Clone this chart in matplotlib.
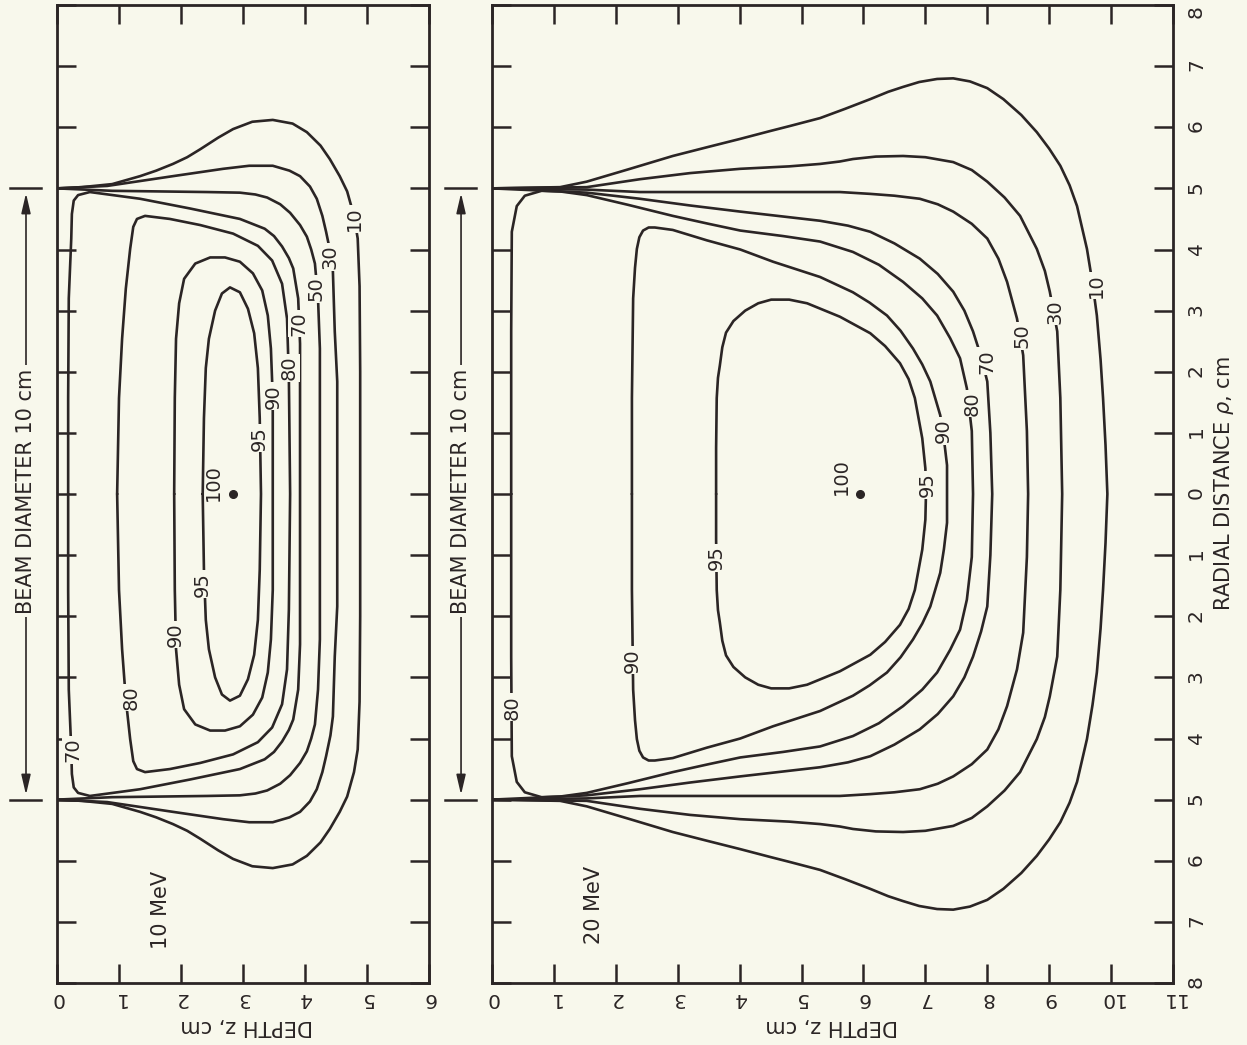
import matplotlib.pyplot as plt

# isodose curves, upper half only (rho >= 0)
# each point is (depth z, radial distance rho) in cm; the lower half is the mirror image
MEV10_10 = [(0.0, 5.0), (0.4, 5.02), (0.89, 5.07), (1.34, 5.2), (1.6, 5.29), (1.87, 5.4),
            (2.1, 5.51), (2.31, 5.64), (2.6, 5.83), (2.84, 5.97), (3.15, 6.09), (3.48, 6.12),
            (3.8, 6.06), (4.03, 5.92), (4.25, 5.7), (4.40, 5.48), (4.56, 5.2), (4.68, 4.95),
            (4.79, 4.55), (4.85, 4.18), (4.88, 3.4), (4.89, 2.0), (4.89, 0.0)]
MEV10_30 = [(0.0, 5.0), (0.81, 5.04), (1.87, 5.2), (2.68, 5.32), (3.1, 5.37), (3.48, 5.37),
            (3.75, 5.29), (3.92, 5.2), (4.08, 5.03), (4.19, 4.83), (4.28, 4.55), (4.34, 4.29),
            (4.41, 3.95), (4.45, 3.64), (4.48, 2.66), (4.52, 1.84), (4.52, 0.0)]
MEV10_50 = [(0.0, 5.0), (0.89, 4.96), (2.42, 4.94), (2.95, 4.93), (3.2, 4.9), (3.39, 4.85),
            (3.6, 4.74), (3.76, 4.6), (3.92, 4.4), (4.03, 4.21), (4.1, 4.0), (4.16, 3.77),
            (4.21, 3.2), (4.24, 2.38), (4.24, 0.0)]
MEV10_70 = [(0.18, 0.0), (0.18, 1.57), (0.19, 3.2), (0.23, 4.18), (0.24, 4.58), (0.27, 4.8),
            (0.34, 4.89), (0.53, 4.94), (1.34, 4.83), (2.15, 4.67), (2.95, 4.5), (3.35, 4.34),
            (3.5, 4.22), (3.63, 4.05), (3.74, 3.86), (3.81, 3.69), (3.89, 3.2), (3.92, 2.46),
            (3.92, 0.0)]
MEV10_80 = [(0.97, 0.0), (1.0, 1.57), (1.05, 2.54), (1.11, 3.36), (1.18, 4.01), (1.23, 4.37),
            (1.29, 4.5), (1.42, 4.55), (1.82, 4.5), (2.31, 4.4), (2.84, 4.26), (3.24, 4.06),
            (3.47, 3.82), (3.63, 3.44), (3.71, 2.87), (3.74, 1.89), (3.76, 0.0)]
MEV10_90 = [(1.89, 0.0), (1.9, 1.57), (1.92, 2.54), (1.97, 3.12), (2.05, 3.52), (2.23, 3.77),
            (2.47, 3.87), (2.71, 3.87), (2.95, 3.8), (3.16, 3.61), (3.31, 3.33), (3.4, 2.92),
            (3.45, 2.38), (3.48, 1.57), (3.48, 0.0)]
MEV10_95 = [(2.35, 0.0), (2.37, 1.24), (2.4, 2.06), (2.45, 2.54), (2.55, 3.0), (2.66, 3.28),
            (2.79, 3.38), (2.95, 3.3), (3.08, 3.03), (3.18, 2.63), (3.24, 2.06), (3.27, 1.24),
            (3.29, 0.0)]

MEV20_10 = [(0.0, 5.0), (1.1, 5.02), (1.53, 5.11), (2.23, 5.32), (2.92, 5.53), (3.5, 5.68),
            (4.01, 5.81), (4.5, 5.94), (4.81, 6.02), (5.3, 6.15), (5.7, 6.3), (6.11, 6.46),
            (6.4, 6.58), (6.64, 6.66), (6.9, 6.74), (7.19, 6.79), (7.45, 6.8), (7.72, 6.75),
            (8.0, 6.64), (8.26, 6.46), (8.55, 6.2), (8.8, 5.92), (9.0, 5.65), (9.18, 5.37),
            (9.33, 5.05), (9.45, 4.71), (9.61, 4.01), (9.7, 3.45), (9.77, 2.92), (9.83, 2.2),
            (9.87, 1.57), (9.91, 0.8), (9.94, 0.0)]
MEV20_30 = [(0.0, 5.0), (1.53, 5.02), (2.39, 5.15), (3.2, 5.25), (4.01, 5.32), (4.8, 5.36),
            (5.3, 5.4), (5.62, 5.44), (5.83, 5.48), (6.2, 5.52), (6.64, 5.53), (7.0, 5.51),
            (7.45, 5.43), (7.75, 5.3), (8.0, 5.11), (8.28, 4.85), (8.53, 4.55), (8.8, 4.01),
            (8.93, 3.65), (9.01, 3.31), (9.13, 2.66), (9.18, 1.57), (9.21, 0.0)]
MEV20_50 = [(0.0, 5.0), (1.53, 4.98), (2.39, 4.94), (4.01, 4.94), (5.62, 4.94), (6.11, 4.91),
            (6.5, 4.88), (6.91, 4.83), (7.2, 4.74), (7.45, 4.62), (7.75, 4.42), (8.0, 4.18),
            (8.18, 3.85), (8.32, 3.47), (8.48, 2.87), (8.58, 2.27), (8.64, 1.03), (8.66, 0.0)]
MEV20_70 = [(0.0, 5.0), (1.53, 4.93), (2.39, 4.83), (3.2, 4.72), (4.01, 4.62), (4.7, 4.54),
            (5.3, 4.47), (5.75, 4.39), (6.11, 4.29), (6.5, 4.1), (6.91, 3.85), (7.2, 3.6),
            (7.45, 3.31), (7.63, 3.0), (7.77, 2.66), (7.9, 2.25), (8.0, 1.84), (8.05, 1.0),
            (8.08, 0.0)]
MEV20_80 = [(0.31, 0.0), (0.31, 2.66), (0.32, 4.29), (0.4, 4.71), (0.53, 4.88), (0.8, 4.96),
            (1.1, 4.95), (1.53, 4.89), (2.2, 4.73), (2.92, 4.55), (3.5, 4.42), (4.01, 4.31),
            (4.7, 4.22), (5.3, 4.13), (5.83, 3.96), (6.25, 3.75), (6.64, 3.47), (6.95, 3.2),
            (7.19, 2.92), (7.4, 2.55), (7.56, 2.22), (7.67, 1.73), (7.75, 1.03), (7.77, 0.0)]
MEV20_90 = [(2.26, 0.0), (2.26, 1.57), (2.28, 3.2), (2.31, 3.7), (2.34, 4.01), (2.38, 4.2),
            (2.44, 4.31), (2.53, 4.36), (2.63, 4.36), (2.92, 4.32), (3.47, 4.15), (4.01, 4.0),
            (4.54, 3.8), (5.3, 3.55), (5.83, 3.3), (6.1, 3.13), (6.38, 2.92), (6.6, 2.67),
            (6.8, 2.38), (6.95, 2.12), (7.08, 1.84), (7.24, 1.29), (7.3, 0.9), (7.35, 0.47),
            (7.35, 0.0)]
MEV20_95 = [(3.62, 0.0), (3.62, 0.75), (3.63, 1.57), (3.65, 1.9), (3.68, 2.1), (3.72, 2.4),
            (3.78, 2.64), (3.9, 2.83), (4.09, 3.0), (4.3, 3.12), (4.51, 3.18), (4.8, 3.18),
            (5.09, 3.12), (5.62, 2.9), (6.11, 2.63), (6.35, 2.42), (6.59, 2.14), (6.73, 1.88),
            (6.83, 1.57), (6.95, 0.91), (7.0, 0.42), (7.01, 0.0)]

# where the printed curve labels sit: (text, z, rho)
LABELS_10 = [("10", 4.79, 4.5), ("30", 4.41, 3.88), ("50", 4.18, 3.36), ("70", 3.9, 2.79),
             ("80", 3.74, 2.06), ("90", 3.48, 1.6), ("95", 3.27, 0.91), ("95", 2.35, -1.48),
             ("90", 1.91, -2.3), ("80", 1.19, -3.33), ("70", 0.26, -4.19)]
LABELS_20 = [("10", 9.77, 3.41), ("30", 9.1, 2.99), ("50", 8.56, 2.59), ("70", 8.0, 2.17),
             ("80", 7.75, 1.48), ("90", 7.29, 1.03), ("95", 7.03, 0.15), ("95", 3.63, -1.04),
             ("90", 2.26, -2.72), ("80", 0.32, -3.49)]

BG = '#f8f8ec'
INK = '#2b2525'

plt.rcParams['font.family'] = ['DejaVu Sans']
plt.rcParams['mathtext.fontset'] = 'dejavusans'

W, H = 1247, 1045
fig = plt.figure(figsize=(W / 100, H / 100), dpi=100, facecolor=BG)
ax1 = fig.add_axes([57 / W, 62 / H, 372 / W, 978 / H])
ax2 = fig.add_axes([492 / W, 62 / H, 681 / W, 978 / H])


def draw_panel(ax, zmax, curves, labels, dot_z, lab100, energy, energy_pos, right_labels):
    ax.set_facecolor(BG)
    for half in curves:
        z = [p[0] for p in half] + [p[0] for p in reversed(half)]
        r = [p[1] for p in half] + [-p[1] for p in reversed(half)]
        ax.plot(z, r, color=INK, lw=1.9, solid_joinstyle='round', solid_capstyle='round')

    box = dict(boxstyle='square,pad=0.08', fc=BG, ec='none')
    for s, z, r in labels:
        ax.text(z, r, s, rotation=90, ha='center', va='center', fontsize=14,
                color=INK, bbox=box, zorder=5)

    ax.plot([dot_z], [0], 'o', ms=5.5, color=INK)
    ax.text(lab100[0], lab100[1], "100", rotation=90, ha='center', va='center',
            fontsize=14, color=INK)
    ax.text(energy_pos[0], energy_pos[1], energy, rotation=90, ha='center', va='center',
            fontsize=15, color=INK)

    ax.set_xlim(0, zmax)
    ax.set_ylim(-8, 8)
    ax.set_xticks(range(zmax + 1))
    ax.set_xticklabels([str(i) for i in range(zmax + 1)])
    ax.set_yticks(range(-8, 9))
    ax.set_yticklabels([str(abs(i)) for i in range(-8, 9)])
    ax.tick_params(axis='x', direction='in', top=True, bottom=True, length=14, width=1.8,
                   labelrotation=180, pad=4, labelsize=14.5, color=INK, labelcolor=INK)
    ax.tick_params(axis='y', direction='in', left=True, right=True, length=14, width=1.8,
                   labelleft=False, labelright=right_labels, labelrotation=90, pad=10,
                   labelsize=14.5, color=INK, labelcolor=INK)
    for sp in ax.spines.values():
        sp.set_linewidth(2.0)
        sp.set_color(INK)

    # beam diameter marker left of the panel
    ax.plot([-0.76, -0.26], [5, 5], color=INK, lw=1.8, clip_on=False)
    ax.plot([-0.76, -0.26], [-5, -5], color=INK, lw=1.8, clip_on=False)
    for tip in (4.92, -4.92):
        ax.annotate('', xy=(-0.5, tip), xytext=(-0.5, 0),
                    arrowprops=dict(arrowstyle='-|>,head_length=1.2,head_width=0.28',
                                    color=INK, lw=1.2, shrinkA=0, shrinkB=0),
                    annotation_clip=False)
    ax.text(-0.5, 0.05, "BEAM DIAMETER 10 cm", rotation=90, ha='center', va='center',
            fontsize=15, color=INK, bbox=dict(boxstyle='square,pad=0.15', fc=BG, ec='none'),
            zorder=6, clip_on=False)


draw_panel(ax1, 6, [MEV10_10, MEV10_30, MEV10_50, MEV10_70, MEV10_80, MEV10_90, MEV10_95],
           LABELS_10, 2.84, (2.53, 0.18), "10 MeV", (1.68, -6.8), False)
draw_panel(ax2, 11, [MEV20_10, MEV20_30, MEV20_50, MEV20_70, MEV20_80, MEV20_90, MEV20_95],
           LABELS_20, 5.95, (5.65, 0.29), "20 MeV", (1.65, -6.72), True)

# keep the top "8" inside the picture
ax2.yaxis.get_major_ticks()[-1].label2.set_va('top')

fig.text(247 / W, 1 - 1026 / H, "DEPTH z, cm", rotation=180, ha='center', va='center',
         fontsize=15, color=INK)
fig.text(832 / W, 1 - 1026 / H, "DEPTH z, cm", rotation=180, ha='center', va='center',
         fontsize=15, color=INK)
fig.text(1224 / W, 1 - 484 / H, "RADIAL DISTANCE $\\rho$, cm", rotation=90, ha='center',
         va='center', fontsize=15, color=INK)

fig.savefig("out.png", dpi=100, facecolor=BG)
